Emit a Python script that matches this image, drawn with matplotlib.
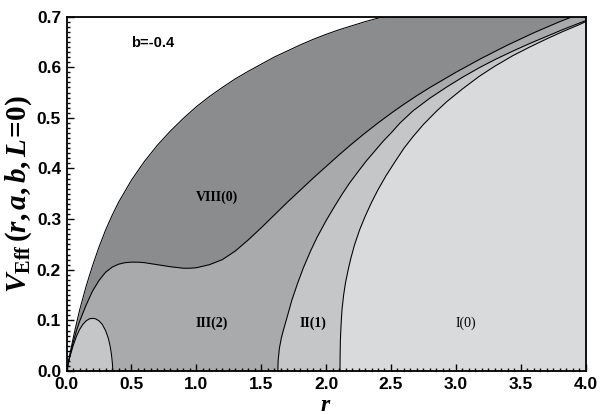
import matplotlib
matplotlib.use("Agg")
import matplotlib.pyplot as plt
from matplotlib.ticker import MultipleLocator

# Boundary curves of the effective-potential regions (b = -0.4)
r_outer = [0.0, 0.025, 0.05, 0.075, 0.1, 0.15, 0.2, 0.25, 0.3, 0.35, 0.4, 0.5,
           0.6, 0.7, 0.8, 0.9, 1.0, 1.1, 1.2, 1.3, 1.4, 1.5, 1.6, 1.7, 1.8, 1.9,
           2.0, 2.1, 2.2, 2.3, 2.4, 2.5]
v_outer = [0.0, 0.033, 0.064, 0.093, 0.12, 0.167, 0.208, 0.245, 0.278, 0.307, 0.333, 0.377,
           0.414, 0.446, 0.474, 0.499, 0.522, 0.542, 0.56, 0.577, 0.592, 0.606, 0.62, 0.632,
           0.644, 0.655, 0.665, 0.674, 0.682, 0.69, 0.697, 0.704]

r_hump = [0.0, 0.025, 0.05, 0.075, 0.1, 0.15, 0.2, 0.25, 0.3, 0.35, 0.4, 0.45,
          0.5, 0.55, 0.6, 0.7, 0.8, 0.9, 0.95, 1.0, 1.1, 1.2, 1.3, 1.4, 1.5, 1.6,
          1.7, 1.8, 1.9, 2.0, 2.1, 2.2, 2.3, 2.4, 2.5, 2.6, 2.7, 2.8, 2.9, 3.0,
          3.1, 3.2, 3.3, 3.4, 3.5, 3.6, 3.7, 3.8, 3.9]
v_hump = [0.0, 0.03, 0.056, 0.079, 0.098, 0.13, 0.158, 0.179, 0.195, 0.205, 0.211, 0.214,
          0.215, 0.215, 0.214, 0.21, 0.206, 0.203, 0.203, 0.204, 0.21, 0.22, 0.237, 0.259,
          0.283, 0.308, 0.333, 0.357, 0.381, 0.404, 0.427, 0.449, 0.47, 0.49, 0.509, 0.527,
          0.544, 0.56, 0.575, 0.59, 0.604, 0.618, 0.631, 0.644, 0.656, 0.668, 0.679, 0.69,
          0.70]

r_inner = [1.628, 1.63, 1.64, 1.655, 1.67, 1.70, 1.736, 1.78, 1.825, 1.88, 1.93, 2.0,
           2.06, 2.12, 2.18, 2.25, 2.31, 2.38, 2.44, 2.5, 2.57, 2.67, 2.8, 2.93, 3.05,
           3.18, 3.3, 3.44, 3.57, 3.7, 3.82, 3.95, 4.0]
v_inner = [0.0, 0.02, 0.045, 0.065, 0.08, 0.107, 0.14, 0.173, 0.204, 0.237, 0.264, 0.297,
           0.323, 0.348, 0.371, 0.395, 0.415, 0.436, 0.454, 0.47, 0.49, 0.514, 0.539, 0.561,
           0.58, 0.599, 0.615, 0.632, 0.647, 0.661, 0.674, 0.687, 0.692]

r_far = [2.107, 2.108, 2.11, 2.115, 2.122, 2.135, 2.15, 2.17, 2.19, 2.22, 2.26, 2.30,
         2.35, 2.40, 2.46, 2.53, 2.60, 2.67, 2.75, 2.85, 2.93, 3.05, 3.18, 3.3, 3.44,
         3.57, 3.7, 3.82, 3.95, 4.0]
v_far = [0.0, 0.03, 0.06, 0.09, 0.12, 0.15, 0.175, 0.2, 0.222, 0.25, 0.28, 0.305,
         0.333, 0.358, 0.385, 0.413, 0.44, 0.463, 0.487, 0.513, 0.532, 0.557, 0.582, 0.602,
         0.623, 0.64, 0.656, 0.67, 0.684, 0.69]

r_lobe = [0.0, 0.025, 0.05, 0.075, 0.1, 0.125, 0.15, 0.175, 0.2, 0.225, 0.25, 0.275,
          0.3, 0.32, 0.335, 0.345, 0.352, 0.357]
v_lobe = [0.0, 0.028, 0.05, 0.068, 0.082, 0.092, 0.099, 0.103, 0.104, 0.103, 0.099, 0.092,
          0.08, 0.066, 0.05, 0.034, 0.018, 0.0]

region_labels = ["VIII(0)", "III(2)", "II(1)", "I(0)"]
label_r = [1.16, 1.12, 1.90, 3.08]
label_v = [0.344, 0.094, 0.094, 0.094]
label_bold = [True, True, True, False]

XMAX, YMAX = 4.0, 0.7

c_dark = "#8b8c8e"
c_mid = "#a9aaac"
c_light = "#c5c6c8"
c_pale = "#d9dadc"

plt.rcParams["mathtext.fontset"] = "custom"
plt.rcParams["mathtext.rm"] = "Liberation Serif:bold"
plt.rcParams["mathtext.it"] = "Liberation Serif:bold:italic"
plt.rcParams["mathtext.bf"] = "Liberation Serif:bold"

fig = plt.figure(figsize=(6.0, 4.15), dpi=100)
ax = fig.add_axes([0.111, 0.106, 0.865, 0.854])
ax.set_facecolor(c_dark)

# region fills, layered from the outside in
ax.fill_between(r_hump, 0, v_hump, color=c_mid, lw=0)
ax.fill_between([r_hump[-1], XMAX], 0, YMAX, color=c_mid, lw=0)
ax.fill_between(r_inner, 0, v_inner, color=c_light, lw=0)
ax.fill_between(r_far, 0, v_far, color=c_pale, lw=0)
ax.fill_between(r_lobe, 0, v_lobe, color=c_light, lw=0)
ax.fill_between(r_outer, v_outer, YMAX, color="white", lw=0)

for rr, vv in [(r_outer, v_outer), (r_hump, v_hump), (r_inner, v_inner),
               (r_far, v_far), (r_lobe, v_lobe)]:
    ax.plot(rr, vv, color="black", lw=0.75, solid_joinstyle="round")

ax.set_xlim(0, XMAX)
ax.set_ylim(0, YMAX)

ax.xaxis.set_major_locator(MultipleLocator(0.5))
ax.xaxis.set_minor_locator(MultipleLocator(0.05))
ax.yaxis.set_major_locator(MultipleLocator(0.1))
ax.yaxis.set_minor_locator(MultipleLocator(0.01))
ax.tick_params(which="both", direction="in", top=False, right=False, width=1.0)
ax.tick_params(which="major", length=5)
ax.tick_params(which="minor", length=2.5)
ax.xaxis.set_major_formatter(plt.FuncFormatter(lambda v, p: f"{v:.1f}"))
ax.yaxis.set_major_formatter(plt.FuncFormatter(lambda v, p: f"{v:.1f}"))
for lab in ax.get_xticklabels() + ax.get_yticklabels():
    lab.set_fontfamily("Liberation Sans")
    lab.set_fontweight("bold")
    lab.set_fontsize(12.5)
ax.tick_params(axis="x", pad=4)
ax.tick_params(axis="y", pad=4)

for s in ax.spines.values():
    s.set_linewidth(1.3)

ax.set_xlabel(r"$r$", fontsize=17, labelpad=0)
ax.set_ylabel(r"$V_{\mathrm{Eff}}\,(r,a,b,L\!=\!0)$", fontsize=21, labelpad=2)

ax.text(0.66, 0.648, "b=-0.4", fontsize=10.5, fontweight="bold",
        fontfamily="Liberation Sans", ha="center", va="center")

for txt, x, y, bold in zip(region_labels, label_r, label_v, label_bold):
    ax.text(x, y, txt, fontsize=10, fontfamily="Liberation Serif",
            fontweight="bold" if bold else "normal", ha="center", va="center")

fig.savefig("out.png", dpi=100)
